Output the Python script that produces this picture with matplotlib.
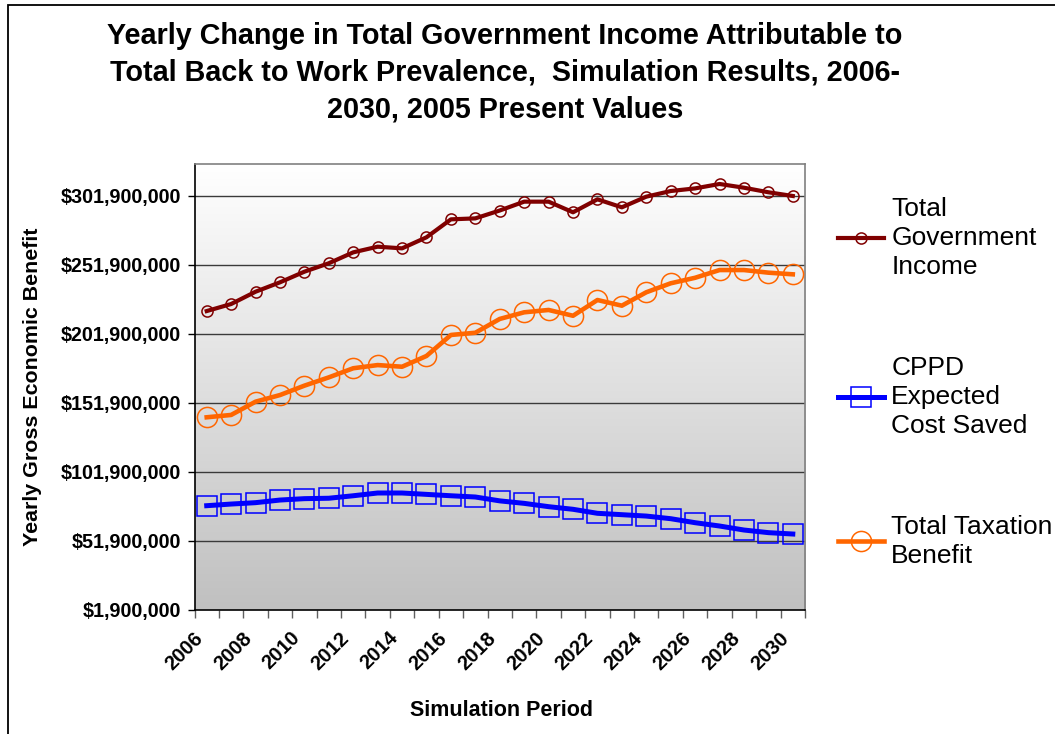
import numpy as np
import matplotlib
matplotlib.use("Agg")
import matplotlib.pyplot as plt
from matplotlib.colors import LinearSegmentedColormap
from matplotlib.patches import Rectangle
from matplotlib.ticker import FuncFormatter
from matplotlib.transforms import ScaledTranslation

plt.rcParams['font.family'] = ['Liberation Sans', 'DejaVu Sans']

# 数据（单位：百万美元）
years = list(range(2006, 2031))
gov_income = [218.3, 223.4, 232.3, 239.1, 246.8, 252.9, 260.8, 264.9, 263.7, 271.7,
              284.7, 285.4, 291.1, 297.5, 297.5, 289.8, 299.2, 293.4, 301.1, 305.2,
              307.1, 310.3, 307.6, 304.3, 301.6]
cppd_saved = [77.4, 78.6, 79.6, 81.5, 82.5, 82.8, 84.6, 86.6, 86.6, 85.6,
              84.6, 83.7, 80.9, 79.1, 76.7, 74.8, 71.9, 70.9, 69.9, 68.0,
              65.1, 62.7, 59.8, 57.9, 56.9]
tax_benefit = [141.4, 143.1, 152.7, 157.5, 164.3, 170.3, 176.9, 179.2, 178.0, 185.8,
               201.0, 202.6, 212.6, 217.4, 219.1, 214.9, 226.3, 222.2, 231.9, 238.4,
               242.4, 248.0, 248.0, 246.1, 244.9]
y_ticks = [1.9, 51.9, 101.9, 151.9, 201.9, 251.9, 301.9]
y_max = 324.4

fig = plt.figure(figsize=(10.55, 7.34), dpi=100)
ax = fig.add_axes([194.5 / 1055, 1 - 610 / 734, (805 - 194.5) / 1055, (610 - 164.5) / 734])

x = np.arange(len(years))
x_lo, x_hi = -0.5, len(years) - 0.5

# 背景渐变
cmap = LinearSegmentedColormap.from_list('bg', ['#c0c0c0', '#ffffff'])
grad = np.linspace(0, 1, 256).reshape(-1, 1)
ax.imshow(grad, extent=(x_lo, x_hi, y_ticks[0], y_max), origin='lower',
          aspect='auto', cmap=cmap, zorder=0)

for yv in y_ticks[1:]:
    ax.axhline(yv, color='#3a3a3a', lw=1, zorder=1)

l1, = ax.plot(x, gov_income, '-', color='#800000', lw=3, marker='o', ms=8,
              mfc='none', mec='#800000', mew=1.1, zorder=4, label='Total\nGovernment\nIncome')
l2, = ax.plot(x, cppd_saved, '-', color='#0000ff', lw=3.6, marker='s', ms=14,
              mfc='none', mec='#0000ff', mew=1.1, zorder=3, label='CPPD\nExpected\nCost Saved')
l3, = ax.plot(x, tax_benefit, '-', color='#ff6600', lw=3.3, marker='o', ms=14.5,
              mfc='none', mec='#ff6600', mew=1.1, zorder=3, label='Total Taxation\nBenefit')

ax.set_xlim(x_lo, x_hi)
ax.set_ylim(y_ticks[0], y_max)

ax.set_yticks(y_ticks)
ax.yaxis.set_major_formatter(FuncFormatter(lambda v, p: f"${v * 1e6:,.0f}"))
ax.tick_params(axis='y', length=5, width=1, labelsize=14.2, pad=5)
for t in ax.get_yticklabels():
    t.set_fontweight('bold')

ax.set_xticks(np.arange(x_lo, x_hi + 0.01, 1))
ax.set_xticklabels([])
ax.tick_params(axis='x', which='major', length=6, width=1, color='#606060')
ax.set_xticks(x[::2], minor=True)
ax.set_xticklabels([str(y) for y in years[::2]], minor=True, rotation=45,
                   ha='right', va='center', rotation_mode='anchor',
                   fontsize=14.5, fontweight='bold')
ax.tick_params(axis='x', which='minor', length=0, pad=18)
shift = ScaledTranslation(-7 / 100, 0, fig.dpi_scale_trans)
for t in ax.get_xticklabels(minor=True):
    t.set_transform(t.get_transform() + shift)

for s in ['left', 'bottom']:
    ax.spines[s].set_color('black')
for s in ['top', 'right']:
    ax.spines[s].set_color('#808080')
for s in ax.spines.values():
    s.set_linewidth(1.2)

ax.set_ylabel('Yearly Gross Economic Benefit', fontsize=15.4, fontweight='bold', labelpad=13)
fig.text(501 / 1055, 1 - 710 / 734, 'Simulation Period', ha='center', va='center',
         fontsize=15.5, fontweight='bold')

fig.text(505 / 1055, 1 - 21.5 / 734,
         'Yearly Change in Total Government Income Attributable to\n'
         'Total Back to Work Prevalence,  Simulation Results, 2006-\n'
         '2030, 2005 Present Values',
         ha='center', va='top', fontsize=20.7, fontweight='bold', linespacing=1.42)

leg = fig.legend(handles=[l1, l2, l3], loc='upper left',
                 bbox_to_anchor=(838 / 1055, 1 - 197 / 734), frameon=False,
                 fontsize=19, handlelength=1.75, handletextpad=0.27,
                 labelspacing=2.9, borderpad=0, borderaxespad=0)
for t in leg.get_texts():
    t.set_linespacing(1.27)

# 外框
fig.patches.append(Rectangle((8 / 1055, -0.01), 1.0, 1 - 5 / 734 + 0.01, transform=fig.transFigure,
                             fill=False, edgecolor='black', lw=1.3))

plt.savefig('out.png', dpi=100)
